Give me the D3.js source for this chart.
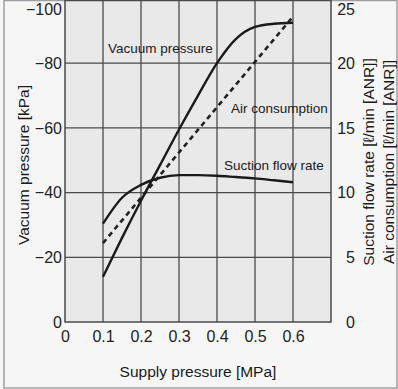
<!DOCTYPE html>
<html><head><meta charset="utf-8">
<script src="https://cdn.jsdelivr.net/npm/d3@7"></script>
<style>
html,body{margin:0;padding:0;background:#f6f6f6;}
svg{display:block;font-family:"Liberation Sans",Arial,Helvetica,sans-serif;}
</style></head>
<body>
<svg id="chart" width="398" height="389"></svg>
<script>
// ---- data ----
const pressure = [0.1, 0.15, 0.2, 0.25, 0.3, 0.35, 0.4, 0.45, 0.5, 0.55, 0.6];
const vacuumPressure = [-14, -26, -37.5, -48.5, -59.5, -70, -80, -87.5, -91.2, -92.2, -92.5];
const suctionFlow = [7.6, 9.6, 10.6, 11.15, 11.35, 11.35, 11.3, 11.2, 11.1, 10.95, 10.8];
const airPressure = [0.1, 0.2, 0.3, 0.4, 0.5, 0.6];
const airConsumption = [6.1, 9.6, 13.1, 16.6, 20.1, 23.6];
const xTicks = [0, 0.1, 0.2, 0.3, 0.4, 0.5, 0.6];
const leftTicks = [0, -20, -40, -60, -80, -100];
const rightTicks = [0, 5, 10, 15, 20, 25];
const xGrid = [0.1, 0.2, 0.3, 0.4, 0.5, 0.6];
const seriesLabels = ["Vacuum pressure", "Air consumption", "Suction flow rate"];

const svg = d3.select("#chart");
const W = 398, H = 389;
const L = 65, R = 331, T = -1.5, B = 322;

const x = d3.scaleLinear().domain([0, 0.7]).range([L, R]);
const yL = d3.scaleLinear().domain([0, -100]).range([B, T]);
const yR = d3.scaleLinear().domain([0, 25]).range([B, T]);

// outer frame
svg.append("rect").attr("x", 0).attr("y", 0).attr("width", W).attr("height", H).attr("fill", "#f6f6f6");
svg.append("rect").attr("x", 4).attr("y", 0.5).attr("width", 393).attr("height", 387.5)
  .attr("fill", "none").attr("stroke", "#a0a0a0").attr("stroke-width", 1.5);

// plot background
svg.append("rect").attr("x", L).attr("y", 0).attr("width", R - L).attr("height", B)
  .attr("fill", "#e9e9e9");

// grid
const g = svg.append("g");
g.selectAll(".vg").data(xGrid).join("line")
  .attr("x1", d => x(d)).attr("x2", d => x(d)).attr("y1", 0).attr("y2", B)
  .attr("stroke", "#4a4a4a").attr("stroke-width", 1.3);
g.selectAll(".hg").data(leftTicks.filter(d => d !== 0 && d !== -100)).join("line")
  .attr("x1", L).attr("x2", R).attr("y1", d => yL(d)).attr("y2", d => yL(d))
  .attr("stroke", "#4a4a4a").attr("stroke-width", 1.3);
// frame
svg.append("rect").attr("x", L).attr("y", 0.5).attr("width", R - L).attr("height", B - 0.5)
  .attr("fill", "none").attr("stroke", "#4a4a4a").attr("stroke-width", 1.5);

// axes (labels only)
const fmtL = d => d === 0 ? "0" : "\u2212" + Math.abs(d);
const axL = svg.append("g").attr("transform", `translate(${L},0)`)
  .call(d3.axisLeft(yL).tickValues(leftTicks).tickFormat(fmtL).tickSize(0).tickPadding(3));
const axR = svg.append("g").attr("transform", `translate(${R},0)`)
  .call(d3.axisRight(yR).tickValues(rightTicks).tickFormat(d3.format("d")).tickSize(0).tickPadding(24));
const axB = svg.append("g").attr("transform", `translate(0,${B})`)
  .call(d3.axisBottom(x).tickValues(xTicks).tickFormat(d => d === 0 ? "0" : d3.format(".1f")(d)).tickSize(0).tickPadding(9));
[axL, axR, axB].forEach(a => {
  a.select(".domain").remove();
  a.selectAll("text").attr("font-size", 16).attr("fill", "#222")
    .attr("font-family", "'Liberation Sans',Arial,sans-serif");
});
axR.selectAll("text").attr("text-anchor", "end");
// top labels shifted down to stay inside image
axL.selectAll(".tick").filter(d => d === -100).select("text").attr("dy", "1.0em");
axR.selectAll(".tick").filter(d => d === 25).select("text").attr("dy", "1.0em");

// lines
const lineV = d3.line().x((d, i) => x(pressure[i])).y(d => yL(d)).curve(d3.curveMonotoneX);
const lineS = d3.line().x((d, i) => x(pressure[i])).y(d => yR(d)).curve(d3.curveMonotoneX);
const lineA = d3.line().x((d, i) => x(airPressure[i])).y(d => yR(d)).curve(d3.curveMonotoneX);

svg.append("path").datum(airConsumption).attr("d", lineA)
  .attr("fill", "none").attr("stroke", "#222").attr("stroke-width", 2.6)
  .attr("stroke-dasharray", "5,4");
svg.append("path").datum(vacuumPressure).attr("d", lineV)
  .attr("fill", "none").attr("stroke", "#1a1a1a").attr("stroke-width", 2.4);
svg.append("path").datum(suctionFlow).attr("d", lineS)
  .attr("fill", "none").attr("stroke", "#1a1a1a").attr("stroke-width", 2.4);

// series labels
const lab = svg.append("g").attr("font-size", 13.5).attr("fill", "#1a1a1a");
lab.append("text").attr("x", 108).attr("y", 53).text(seriesLabels[0]);
lab.append("text").attr("x", 231).attr("y", 113).text(seriesLabels[1]);
lab.append("text").attr("x", 224).attr("y", 170).text(seriesLabels[2]);

// axis titles
svg.append("text").attr("x", (L + R) / 2 + 0).attr("y", 377).attr("text-anchor", "middle")
  .attr("font-size", 15.5).attr("fill", "#1a1a1a").text("Supply pressure [MPa]");
svg.append("text").attr("transform", "translate(29,165) rotate(-90)").attr("text-anchor", "middle")
  .attr("font-size", 15.5).attr("fill", "#1a1a1a").text("Vacuum pressure [kPa]");
svg.append("text").attr("transform", "translate(374,162) rotate(-90)").attr("text-anchor", "middle")
  .attr("font-size", 15.5).attr("fill", "#1a1a1a").text("Suction flow rate [\u2113/min [ANR]]");
svg.append("text").attr("transform", "translate(394,162) rotate(-90)").attr("text-anchor", "middle")
  .attr("font-size", 15.5).attr("fill", "#1a1a1a").text("Air consumption [\u2113/min [ANR]]");
</script>
</body></html>
